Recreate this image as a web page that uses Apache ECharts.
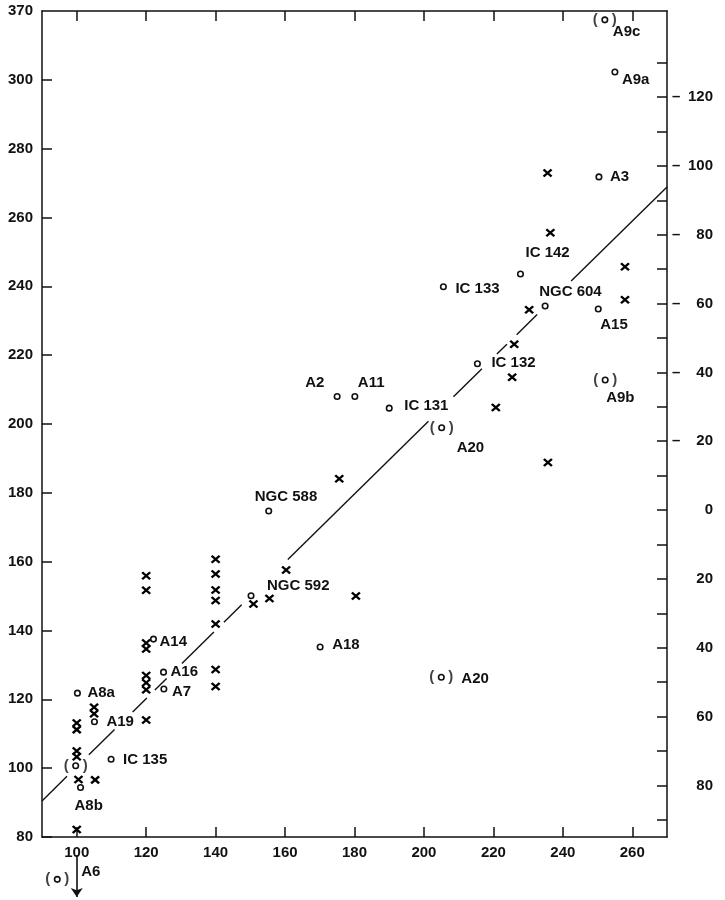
<!DOCTYPE html>
<html><head><meta charset="utf-8">
<script src="https://cdn.jsdelivr.net/npm/echarts@6/dist/echarts.min.js"></script>
<style>html,body{margin:0;padding:0;background:#fff}#c{width:725px;height:900px}</style>
</head><body><div id="c"></div>
<script>
// ---- axis ticks / labels ----
const xTicks = [100, 120, 140, 160, 180, 200, 220, 240, 260];
const yTicks = [80, 100, 120, 140, 160, 180, 200, 220, 240, 260, 280, 300];
const yBreakFrom = 300, yBreakTo = 370;      // top segment 300..370 squeezed into one 20-unit step
const rightTicks = [-130, -120, -110, -100, -90, -80, -70, -60, -50, -40, -30, -20, -10, 0, 10, 20, 30, 40, 50, 60, 70, 80, 90];
const rightLabels = [-120, -100, -80, -60, -40, -20, 0, 20, 40, 60, 80];
const rightZero = 175;                        // right scale = rightZero - left value

// ---- open circles ----
const circleNames = ['A9c','A9a','A3','IC 142','IC 133','NGC 604','A15','IC 132','A9b','A2','A11','IC 131','A20',
  'NGC 588','NGC 592','A18','A20','A14','A16','A7','A8a','A19','IC 135','','A8b'];
const circleX = [252.1,255.0,250.4,227.8,205.6,234.9,250.2,215.4,252.2,175.0,180.1,190.0,205.1,
  155.3,150.2,170.1,205.0,122.1,125.0,125.1,100.2,105.1,109.9,99.7,101.1];
const circleY = [361,308,271.8,243.6,239.9,234.3,233.4,217.5,212.8,208.0,208.0,204.6,198.9,
  174.7,150.1,135.2,126.4,137.5,127.9,123.0,121.8,113.5,102.6,100.7,94.4];
const circleParen = [1,0,0,0,0,0,0,0,1,0,0,0,1, 0,0,0,1,0,0,0,0,0,0,1,0];

// ---- crosses ----
const crossX = [235.6,236.4,257.9,257.9,230.3,226.0,225.4,220.7,235.7,175.6,160.3,155.5,150.9,180.4,
  140,140,140,140,140,140,140, 120,120,120,120,120,120,120,120, 105,105, 100,100,100,100, 100.5,105.3,100];
const crossY = [272.9,255.6,245.7,236.1,233.2,223.2,213.6,204.8,188.8,184.1,157.6,149.3,147.7,150.0,
  160.7,156.4,151.8,148.7,141.9,128.7,123.7, 155.9,151.7,136.4,134.6,126.9,124.8,122.8,114.0, 117.7,115.8, 113.1,111.2,105.0,103.3, 96.7,96.6,82.2];

// ---- fitted line (drawn in pieces) ----
const fitSlope = 0.991, fitIntercept = 1.3;
const fitPieces = [[90,97.2],[103.5,110.9],[116.1,120.2],[122.5,125.9],[130.3,139.5],[142.4,147.5],
  [160.8,201.3],[208.5,216.7],[221.0,223.9],[226.7,232.6],[242.4,270]];

// ---- A6: upper limit below the frame ----
const a6Name = 'A6';
const a6Circle = [94.4, 67.7];
const a6ArrowX = 100, a6ArrowFrom = 74.8, a6ArrowTo = 62.6;

// ---- layout only: label offsets [dx of text left edge, dy of text centre] ----
const labelOffsets = [[8,12],[7,8],[11,0],[5,-21],[12,2],[-6,-14],[2,16],[14,-1],[1,18],[-32,-14],[3,-14],[15,-2],[15,20],
  [-14,-14],[16,-10],[12,-2],[20,2],[6,3],[7,0],[8,3],[10,0],[12,0],[12,1],[0,0],[-6,18]];

function toDisplay(v) { return v <= yBreakFrom ? v : yBreakFrom + (v - yBreakFrom) * 20 / (yBreakTo - yBreakFrom); }
const yTop = yBreakFrom + 20;

const INK = '#111111';
const FONT = 'Liberation Sans';
const txt = { color: INK, fontFamily: FONT, fontSize: 15, fontWeight: 'bold', textBorderWidth: 0 };
const axisLine = { show: true, onZero: false, lineStyle: { color: INK, width: 1.5 } };
const tick = (vals) => ({ show: true, inside: true, length: 10, lineStyle: { color: INK, width: 1.5 }, customValues: vals });

const circleData = circleX.map((x, i) => ({
  value: [x, toDisplay(circleY[i])],
  label: { show: !!circleNames[i], formatter: circleNames[i], position: 'inside',
    offset: labelOffsets[i], align: 'left', verticalAlign: 'middle', ...txt }
}));
const parenData = circleX.map((x, i) => circleParen[i] ? [x, toDisplay(circleY[i])] : null).filter(Boolean);
const crossData = crossX.map((x, i) => [x, toDisplay(crossY[i])]);
const fitLines = fitPieces.map(p => ({ coords: [[p[0], fitSlope * p[0] + fitIntercept], [p[1], fitSlope * p[1] + fitIntercept]] }));

const parenLabel = { show: true, position: 'inside', formatter: '{p|(}{s| }{p|)}', align: 'center', verticalAlign: 'middle',
  rich: { p: { color: INK, fontFamily: FONT, fontSize: 15, fontWeight: 'bold', textBorderWidth: 0 }, s: { width: 14 } } };

const chart = echarts.init(document.getElementById('c'), null, { renderer: 'canvas' });
chart.setOption({
  animation: false,
  backgroundColor: '#fff',
  grid: { left: 42, right: 58, top: 11, bottom: 63, containLabel: false },
  xAxis: [
    { type: 'value', position: 'bottom', min: 90, max: 270, axisLine, splitLine: { show: false },
      axisTick: tick(xTicks), axisLabel: { ...txt, margin: 8, customValues: xTicks } },
    { type: 'value', position: 'top', min: 90, max: 270, axisLine, splitLine: { show: false },
      axisTick: tick(xTicks), axisLabel: { show: false } }
  ],
  yAxis: [
    { type: 'value', position: 'left', min: 80, max: yTop, axisLine, splitLine: { show: false },
      axisTick: tick(yTicks),
      axisLabel: { ...txt, margin: 9, customValues: yTicks.concat([yTop]),
        formatter: v => v === yTop ? String(yBreakTo) : String(v) } },
    { type: 'value', position: 'right', min: rightZero - yTop, max: rightZero - 80, inverse: true,
      axisLine, splitLine: { show: false }, axisTick: tick(rightTicks),
      axisLabel: { margin: 5, align: 'left', customValues: rightLabels,
        formatter: v => '{d|' + (v < 0 ? '\u2013' : ' ') + '}{n|' + Math.abs(v) + '}',
        rich: { d: { ...txt, width: 12, align: 'left' }, n: { ...txt, width: 29, align: 'right' } } } }
  ],
  series: [
    { type: 'lines', coordinateSystem: 'cartesian2d', data: fitLines, silent: true,
      lineStyle: { color: INK, width: 1.4, opacity: 1 } },
    { type: 'scatter', data: crossData, symbol: 'path://M0,0L10,10M0,10L10,0', symbolSize: [8, 7],
      itemStyle: { color: 'none', borderColor: '#000', borderWidth: 2.3, opacity: 1 }, z: 3 },
    { type: 'scatter', data: circleData, symbol: 'circle', symbolSize: 5.5,
      itemStyle: { color: '#fff', borderColor: INK, borderWidth: 1.6, opacity: 1 }, z: 4 },
    { type: 'scatter', data: parenData, symbol: 'circle', symbolSize: 1,
      itemStyle: { color: 'rgba(0,0,0,0)' }, label: parenLabel, z: 5 },
    { type: 'scatter', clip: false, data: [{ value: a6Circle,
        label: { show: true, formatter: a6Name, position: 'inside', offset: [24, -7], align: 'left', verticalAlign: 'middle', ...txt } }],
      symbol: 'circle', symbolSize: 5.5, itemStyle: { color: '#fff', borderColor: INK, borderWidth: 1.6, opacity: 1 }, z: 4 },
    { type: 'scatter', clip: false, data: [a6Circle], symbol: 'circle', symbolSize: 1,
      itemStyle: { color: 'rgba(0,0,0,0)' }, label: parenLabel, z: 5 },
    { type: 'lines', coordinateSystem: 'cartesian2d', clip: false, silent: true,
      data: [{ coords: [[a6ArrowX, a6ArrowFrom], [a6ArrowX, a6ArrowTo]] }],
      symbol: ['none', 'arrow'], symbolSize: 9,
      lineStyle: { color: INK, width: 1.6, opacity: 1 } }
  ]
});
</script></body></html>
